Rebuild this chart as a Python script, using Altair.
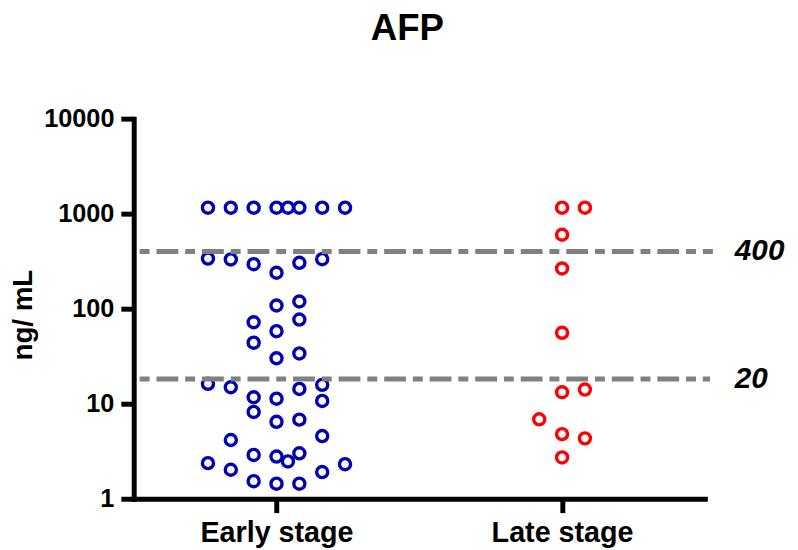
import altair as alt
import pandas as pd

# ---- data ----
categories = ["Early stage", "Late stage"]

# Early stage: values (ng/mL) and beeswarm slot (column offset within the group)
early_values = [1155, 1155, 1155, 1155, 1155, 1155, 1155, 1155,
                337, 330, 294, 239, 304, 332,
                108, 119, 76.8, 72, 58, 43.9, 30.1, 33.8,
                16.2, 14.9, 14.3, 15.8, 11.7, 11.3, 10.7,
                8.2, 6.45, 6.8, 4.15, 4.57,
                2.89, 2.78, 2.47, 3.01, 2.37, 2.31, 2.02, 1.91,
                1.53, 1.44, 1.44]
early_slots = [-3, -2, -1, 0, 0.5, 1, 2, 3,
               -3, -2, -1, 0, 1, 2,
               0, 1, 1, -1, 0, -1, 0, 1,
               -3, -2, 1, 2, -1, 0, 2,
               -1, 0, 1, -2, 2,
               -1, 0, 0.5, 1, -3, 3, -2, 2,
               -1, 0, 1]

late_values = [1155, 1155, 600, 265, 55.8, 13.2, 14.1, 6.86, 4.79, 4.32, 2.72]
late_slots = [0, 1, 0, 0, 0, 0, 1, -1, 0, 1, 0]

cutoff_values = [400, 18.2]
cutoff_labels = ["400", "20"]

y_ticks = [1, 10, 100, 1000, 10000]

FONT = "Liberation Sans, Arial, sans-serif"

rows = []
for v, s in zip(early_values, early_slots):
    rows.append({"stage": categories[0], "idx": 1, "slot": s, "value": v})
for v, s in zip(late_values, late_slots):
    rows.append({"stage": categories[1], "idx": 2, "slot": s, "value": v})
df = pd.DataFrame(rows)

cut_df = pd.DataFrame({"value": cutoff_values, "label": cutoff_labels,
                       "x0": [0.5, 0.5], "x1": [2.528, 2.518], "xt": [2.605, 2.605]})

xscale = alt.Scale(domain=[0.5, 2.5], nice=False, zero=False)
yscale = alt.Scale(type="log", domain=[1, 10000], nice=False)

label_expr = "datum.value == 1 ? '%s' : (datum.value == 2 ? '%s' : '')" % (categories[0], categories[1])

points = alt.Chart(df).transform_calculate(
    xpos="datum.idx + datum.slot * 0.08"
).mark_point(shape="circle", filled=False, size=125, strokeWidth=3.4, opacity=1).encode(
    x=alt.X("xpos:Q", scale=xscale,
            axis=alt.Axis(values=[1, 2], labelExpr=label_expr, title=None,
                          grid=False, domainColor="black", domainWidth=5,
                          tickColor="black", tickWidth=5, tickSize=14,
                          labelFont=FONT, labelFontSize=29, labelFontWeight="bold",
                          labelColor="black", labelPadding=6, labelFlush=False)),
    y=alt.Y("value:Q", scale=yscale,
            axis=alt.Axis(values=y_ticks, format="d", title="ng/ mL", grid=False,
                          domainColor="black", domainWidth=5,
                          tickColor="black", tickWidth=5, tickSize=13,
                          labelFont=FONT, labelFontSize=25.5, labelFontWeight="bold",
                          labelColor="black", labelPadding=7,
                          titleFont=FONT, titleFontSize=28, titleFontWeight="bold",
                          titleColor="black", titleX=-97, titleY=198,
                          titleAngle=270, titleBaseline="bottom", titleAlign="center")),
    color=alt.Color("stage:N", scale=alt.Scale(domain=categories, range=["#0000B4", "#FF0000"]),
                    legend=None),
)

rules = alt.Chart(cut_df).mark_rule(color="#808080", strokeWidth=5,
                                     strokeDash=[22, 7, 10, 7], strokeDashOffset=23,
                                     clip=False).encode(
    x=alt.X("x0:Q", scale=xscale),
    x2="x1:Q",
    y=alt.Y("value:Q", scale=yscale),
)

labels = alt.Chart(cut_df).mark_text(align="left", baseline="middle", font=FONT,
                                      fontSize=30, fontWeight="bold", fontStyle="italic",
                                      color="black", clip=False).encode(
    x=alt.X("xt:Q", scale=xscale),
    y=alt.Y("value:Q", scale=yscale),
    text="label:N",
)

chart = alt.layer(points, rules, labels).properties(
    width=577, height=384,
    autosize=alt.AutoSizeParams(type="none"),
    padding={"left": 127, "top": 109, "right": 86, "bottom": 49},
    title=alt.TitleParams("AFP", font=FONT, fontSize=37, fontWeight="bold", color="black",
                          anchor="middle", frame="group", offset=59, dx=-12),
).configure_view(stroke=None).configure_axis(domainCap="square")

chart.save("out.html", embed_options={"renderer": "svg", "actions": False})
